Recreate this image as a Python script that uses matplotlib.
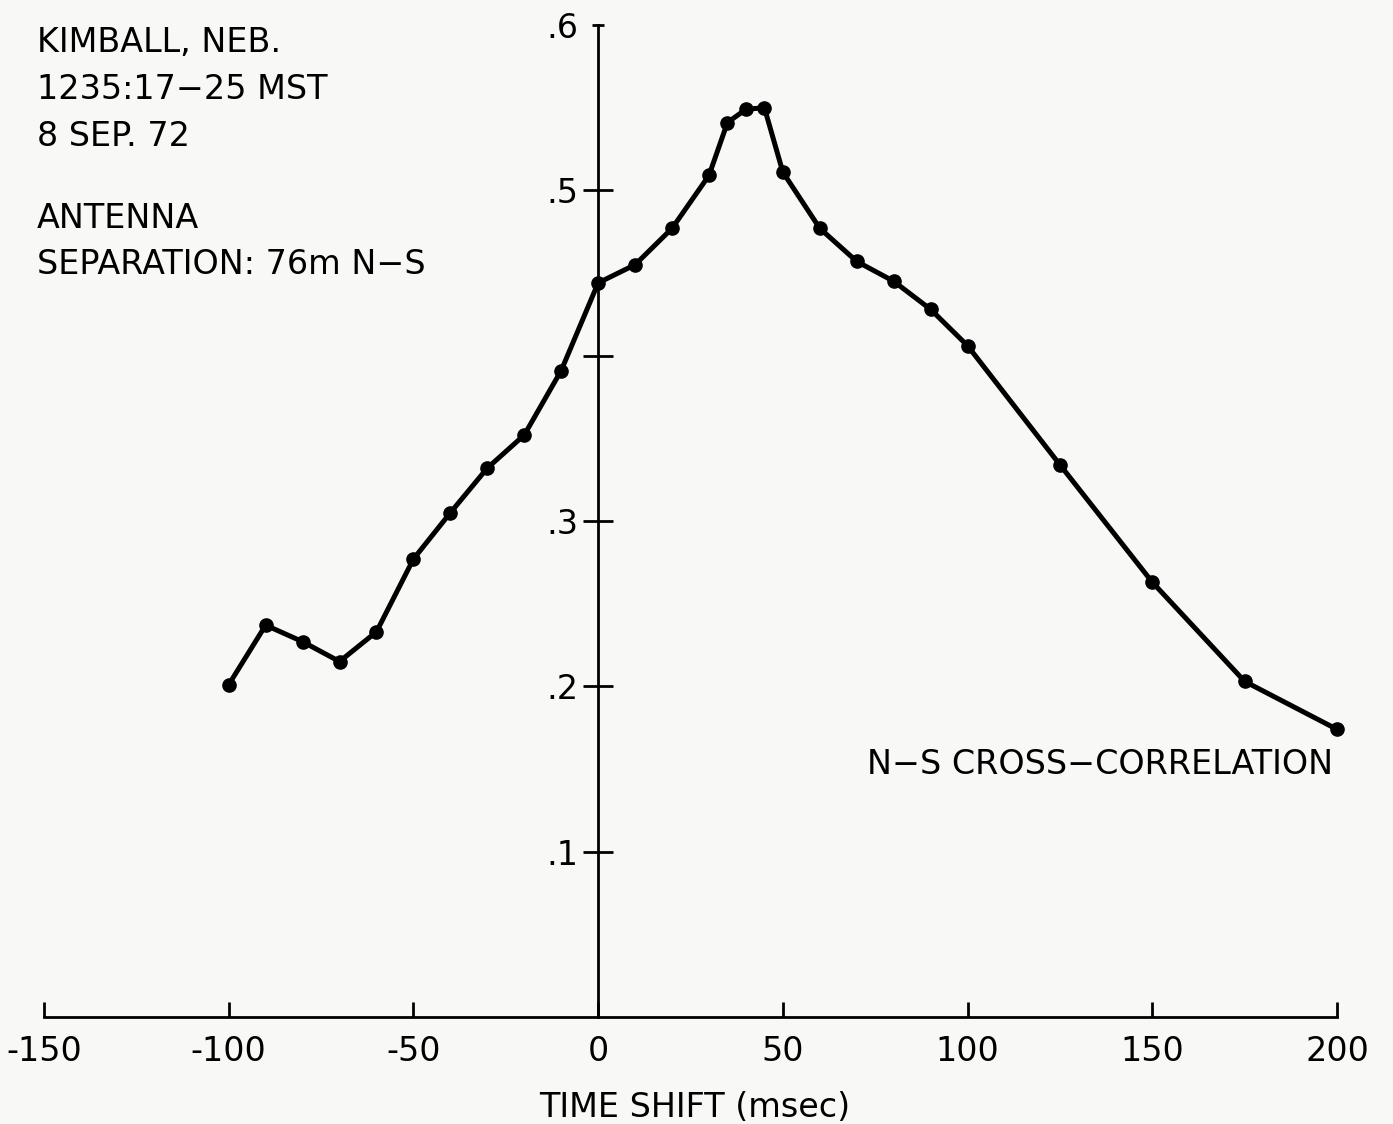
import matplotlib
matplotlib.use("Agg")
import matplotlib.pyplot as plt

# time shift (msec) and N-S cross-correlation
shift = [-100, -90, -80, -70, -60, -50, -40, -30, -20, -10, 0, 10, 20, 30, 35, 40, 45,
         50, 60, 70, 80, 90, 100, 125, 150, 175, 200]
corr = [0.201, 0.237, 0.227, 0.215, 0.233, 0.277, 0.305, 0.332, 0.352, 0.391, 0.444, 0.455,
        0.477, 0.509, 0.541, 0.549, 0.550, 0.511, 0.477, 0.457, 0.445, 0.428, 0.406, 0.334,
        0.263, 0.203, 0.174]

xticks = [-150, -100, -50, 0, 50, 100, 150, 200]
xtick_labels = ['-150', '-100', '-50', '0', '50', '100', '150', '200']
yticks = [0.1, 0.2, 0.3, 0.4, 0.5, 0.6]
ytick_labels = ['.1', '.2', '.3', '', '.5', '.6']

header = ['KIMBALL, NEB.', '1235:17\u221225 MST', '8 SEP. 72']
antenna = ['ANTENNA', 'SEPARATION: 76m N\u2212S']

bg = '#f8f8f6'
fs = 24

fig = plt.figure(figsize=(13.93, 11.24), dpi=100, facecolor=bg)
ax = fig.add_axes([44 / 1393, 1 - 1017 / 1124, (1337 - 44) / 1393, (1017 - 25) / 1124])
ax.set_facecolor(bg)

ax.plot(shift, corr, color='black', lw=3.6, marker='o', ms=9.5, zorder=3, clip_on=False)

ax.set_xlim(-150, 200)
ax.set_ylim(0, 0.6)

ax.spines['top'].set_visible(False)
ax.spines['right'].set_visible(False)
ax.spines['left'].set_position(('data', 0))
ax.spines['left'].set_linewidth(2)
ax.spines['bottom'].set_linewidth(2)

ax.set_xticks(xticks)
ax.set_xticklabels(xtick_labels, fontsize=fs)
ax.set_yticks(yticks)
ax.set_yticklabels(ytick_labels, fontsize=fs)
ax.tick_params(axis='x', direction='in', length=11, width=2, pad=13)
ax.tick_params(axis='y', direction='inout', length=22, width=2, pad=3)
# the top tick is only a short cap
top = ax.yaxis.get_major_ticks()[-1]
top.tick1line.set_markersize(9)

ax.set_xlabel('TIME SHIFT (msec)', fontsize=fs)
ax.xaxis.set_label_coords((695 - 44) / (1337 - 44), -0.075)

ax.text(199, 0.163, 'N\u2212S CROSS\u2212CORRELATION', fontsize=fs, ha='right', va='top')

for i, line in enumerate(header):
    fig.text(37 / 1393, 1 - (42 + 47.5 * i) / 1124, line, fontsize=fs, va='center', ha='left')
for i, line in enumerate(antenna):
    fig.text(37 / 1393, 1 - (218 + 47 * i) / 1124, line, fontsize=fs, va='center', ha='left')

fig.savefig('out.png', dpi=100, facecolor=bg)
